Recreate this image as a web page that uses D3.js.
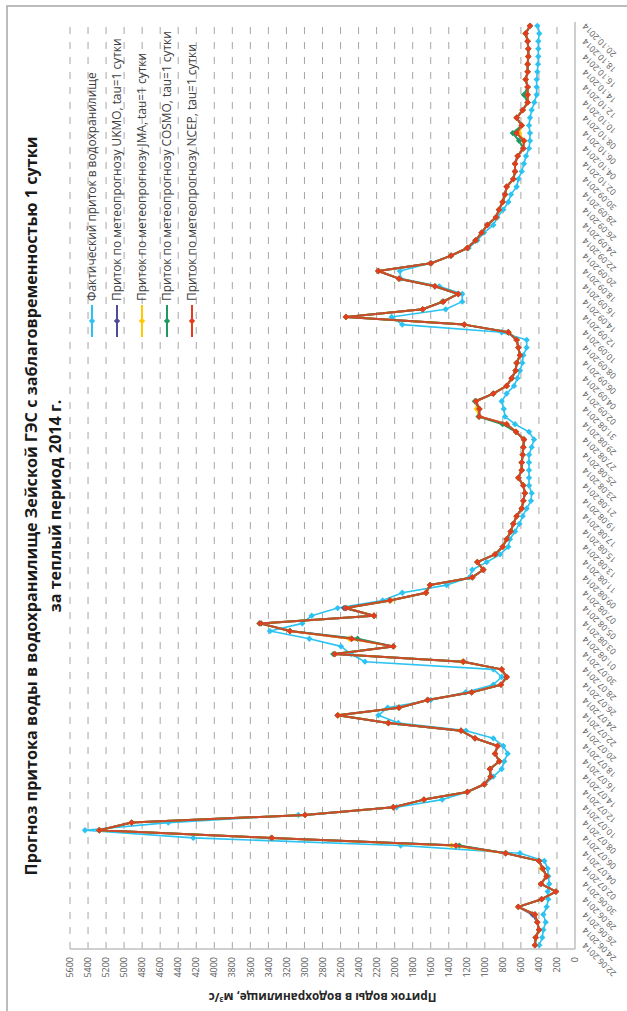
<!DOCTYPE html>
<html><head><meta charset="utf-8">
<script src="https://cdn.jsdelivr.net/npm/d3@7"></script>
<style>html,body{margin:0;padding:0;background:#fff;} svg{display:block;}</style>
</head><body>
<svg id="c" width="627" height="1011"></svg>
<script>
// ---------- DATA ----------
const titleLines = ["Прогноз притока воды в водохранилище Зейской ГЭС с заблаговременностью 1 сутки", "за теплый период 2014 г."];
const axisTitle = "Приток воды в водохранилище, м";
const firstDay = new Date(2014, 5, 22);
const lastDay = new Date(2014, 9, 20);
const valueTicks = [0,200,400,600,800,1000,1200,1400,1600,1800,2000,2200,2400,2600,2800,3000,3200,3400,3600,3800,4000,4200,4400,4600,4800,5000,5200,5400,5600];
const seriesNames = ["Фактический приток в водохранилище","Приток по метеопрогнозу UKMO, tau=1 сутки","Приток по метеопрогнозу JMA, tau=1 сутки","Приток по метеопрогнозу COSMO, tau=1 сутки","Приток по метеопрогнозу NCEP, tau=1 сутки"];
const seriesColors = ["#2cc3f2","#4d4c94","#ffc800","#1f9960","#e63c1e"];

const actual = [396,363,351,325,351,314,296,303,285,296,303,340,610,1933,4233,5434,4510,3068,1978,1472,
1194,1000,906,813,784,747,795,906,1209,1959,2181,2077,1600,1213,906,813,906,2329,2484,2595,
2946,3382,3024,2920,2632,2133,1915,1423,1172,1139,979,832,740,721,665,617,580,536,488,480,
510,510,510,510,510,480,455,510,665,776,790,813,758,676,639,610,584,573,536,536,
813,1915,2033,1434,1250,1250,1505,1933,1941,1608,1375,1180,1083,1009,906,861,795,739,710,647,
628,591,566,543,510,499,499,510,499,480,451,425,425,425,418,410,407,407,407,396,418];

const ukmo = [444,436,399,418,470,629,370,211,377,314,358,399,769,1320,3360,5275,4916,2994,2015,1675,
1194,1006,935,943,839,887,858,1109,1264,2070,2632,1952,1634,1146,821,758,813,1238,2662,2015,
2477,3161,3480,2229,2560,2052,1652,1608,1139,1017,1083,887,802,758,713,684,647,591,573,555,
573,628,591,591,580,573,566,654,758,1061,1061,1098,906,758,702,658,647,610,628,647,
739,1227,2540,1689,1460,1294,1553,1952,2181,1597,1375,1194,1102,1035,972,876,843,802,776,758,
684,665,665,636,573,566,647,591,647,580,525,525,525,547,525,525,518,518,525,547,499];

const jma = [444,436,399,418,444,629,370,211,377,314,370,399,769,1368,3360,5275,4916,2994,2015,1675,
1194,1006,935,943,839,887,858,1109,1264,2070,2620,1952,1634,1146,821,758,813,1250,2662,2015,
2500,3161,3493,2229,2540,2040,1652,1608,1139,1017,1083,887,802,758,713,684,647,591,573,555,
573,628,591,591,580,573,566,654,758,1061,1090,1098,906,758,702,658,647,610,628,647,
739,1227,2540,1689,1470,1294,1553,1952,2181,1597,1375,1194,1102,1035,972,876,843,802,776,758,
684,665,665,636,573,566,620,591,647,580,525,525,525,547,525,525,518,518,525,547,499];

const cosmo = [444,436,399,418,444,629,370,211,377,314,358,399,769,1283,3370,5275,4916,2994,2015,1675,
1194,1006,935,943,839,887,858,1109,1264,2070,2632,1952,1634,1146,821,758,813,1238,2680,2015,
2411,3161,3500,2229,2540,2052,1652,1608,1139,1017,1083,887,802,758,713,684,647,591,573,555,
573,628,591,591,580,573,566,654,802,1070,1061,1110,906,758,702,658,647,610,628,647,
739,1230,2540,1689,1470,1294,1553,1952,2181,1597,1375,1194,1102,1035,972,876,843,802,776,758,
684,665,665,636,573,620,690,591,647,580,525,566,525,547,525,525,518,518,525,547,499];

const ncep = [444,436,399,418,444,629,370,211,377,314,358,399,769,1320,3360,5275,4916,2994,2015,1675,
1194,1006,935,943,839,887,858,1109,1264,2070,2632,1952,1634,1146,821,758,813,1238,2662,2015,
2477,3161,3493,2229,2540,2052,1652,1608,1139,1017,1083,887,802,758,713,684,647,591,573,555,
573,628,591,591,580,573,566,654,758,1061,1061,1098,906,758,702,658,647,610,628,647,
739,1227,2540,1689,1460,1294,1553,1952,2181,1597,1375,1194,1102,1035,972,876,843,802,776,758,
684,665,665,636,573,566,647,591,647,580,525,525,525,547,525,525,518,518,525,547,499];

const allSeries = [actual, ukmo, jma, cosmo, ncep];

// ---------- CHART (drawn in unrotated frame 1011 x 627, then rotated -90deg) ----------
const W = 1011, H = 627;
const fmt = d3.timeFormat("%d.%m.%Y");
const days = d3.timeDay.range(firstDay, d3.timeDay.offset(lastDay, 1)).map(fmt);

const svg = d3.select("#c");
const root = svg.append("g").attr("transform", `translate(0,${W}) rotate(-90)`);
const font = "'Open Sans', 'Noto Sans', sans-serif";

function fit(sel, target) {
  const len = sel.node().getComputedTextLength();
  const fs = parseFloat(sel.attr("font-size"));
  sel.attr("font-size", (fs * target / len).toFixed(2));
}

// border
root.append("rect").attr("x", -5).attr("y", 7).attr("width", 1010).attr("height", 650)
  .attr("fill", "none").attr("stroke", "#a6a6a6").attr("stroke-width", 1.5);

const x = d3.scaleBand().domain(days).range([62, 989]);
const y = d3.scaleLinear().domain([0, 5600]).range([575, 70]);

// gridlines
root.append("g").selectAll("line").data(valueTicks.filter(t => t > 0)).join("line")
  .attr("x1", 62).attr("x2", 989).attr("y1", d => y(d)).attr("y2", d => y(d))
  .attr("stroke", "#a6a6a6").attr("stroke-width", 1).attr("stroke-dasharray", "7,8");

// axes lines
root.append("line").attr("x1", 62).attr("x2", 989).attr("y1", y(0)).attr("y2", y(0))
  .attr("stroke", "#bfbfbf").attr("stroke-width", 1.5);
root.append("line").attr("x1", 62).attr("x2", 62).attr("y1", y(5600)).attr("y2", y(0))
  .attr("stroke", "#bfbfbf").attr("stroke-width", 1.5);

// value tick labels
root.append("g").selectAll("text").data(valueTicks).join("text")
  .attr("x", 54).attr("y", d => y(d)).attr("dy", "0.35em")
  .attr("text-anchor", "end").attr("font-family", font).attr("font-size", 9)
  .attr("fill", "#595959").text(d => d);

// date labels
root.append("g").selectAll("text").data(days.filter((d, i) => i % 2 === 0)).join("text")
  .attr("transform", d => `translate(${x(d) + x.bandwidth() / 2 + 3},${586}) rotate(-45)`)
  .attr("text-anchor", "end").attr("font-family", font).attr("font-size", 8.5)
  .attr("fill", "#595959").text(d => d);

// series
const line = d3.line().x((d, i) => x(days[i]) + x.bandwidth() / 2).y(d => y(d));
const marker = d3.symbol().type(d3.symbolSquare).size(20);
allSeries.forEach((s, k) => {
  const g = root.append("g");
  g.append("path").attr("d", line(s)).attr("fill", "none")
    .attr("stroke", k === 4 ? "#cf4a2a" : seriesColors[k]).attr("stroke-width", k === 0 ? 1.6 : 2)
    .attr("stroke-linejoin", "round");
  g.selectAll("path.m").data(s).join("path").attr("class", "m")
    .attr("d", marker)
    .attr("transform", (d, i) => `translate(${x(days[i]) + x.bandwidth() / 2},${y(d)}) rotate(45)`)
    .attr("fill", seriesColors[k]);
});

// legend
const lg = root.append("g");
seriesNames.forEach((n, k) => {
  const cy = 92 + 25 * k;
  lg.append("line").attr("x1", 674).attr("x2", 706).attr("y1", cy).attr("y2", cy)
    .attr("stroke", seriesColors[k]).attr("stroke-width", 2);
  lg.append("path").attr("d", marker).attr("transform", `translate(690,${cy}) rotate(45)`)
    .attr("fill", seriesColors[k]);
  const t = lg.append("text").attr("x", 710).attr("y", cy).attr("dy", "0.35em")
    .attr("font-family", font).attr("font-size", 11.5).attr("fill", "#404040").text(n);
  if (k === 3) fit(t, 270);
});
const lfs = lg.selectAll("text").filter((d, i) => i === 3).attr("font-size");
lg.selectAll("text").attr("font-size", lfs);

// title
const t1 = root.append("text").attr("x", 505).attr("y", 37).attr("text-anchor", "middle")
  .attr("font-family", font).attr("font-weight", "bold").attr("font-size", 16).attr("fill", "#1a1a1a")
  .text(titleLines[0]);
fit(t1, 739);
root.append("text").attr("x", 505).attr("y", 61).attr("text-anchor", "middle")
  .attr("font-family", font).attr("font-weight", "bold").attr("font-size", t1.attr("font-size")).attr("fill", "#1a1a1a")
  .text(titleLines[1]);

// axis title
const at = root.append("text").attr("transform", `translate(18,${(y(0) + y(5600)) / 2}) rotate(-90)`)
  .attr("text-anchor", "middle").attr("font-family", font).attr("font-weight", "bold")
  .attr("font-size", 11).attr("fill", "#262626");
at.append("tspan").text(axisTitle);
at.append("tspan").attr("font-size", 7).attr("dy", -4).text("3");
at.append("tspan").attr("dy", 4).text("/с");
fit(at, 228);
</script>
</body></html>
